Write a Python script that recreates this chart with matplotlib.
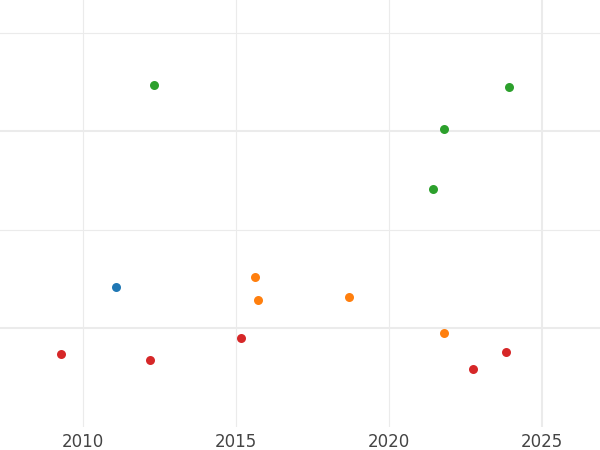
import matplotlib
matplotlib.use("Agg")
import matplotlib.pyplot as plt

# groups of points (year, value)
green_x = [2012.32, 2023.94, 2021.81, 2021.43]
green_y = [2.467, 2.447, 2.023, 1.418]

blue_x = [2011.07]
blue_y = [0.413]

orange_x = [2015.62, 2015.73, 2018.69, 2021.79]
orange_y = [0.521, 0.284, 0.312, -0.048]

red_x = [2009.28, 2012.20, 2015.16, 2022.75, 2023.83]
red_y = [-0.264, -0.322, -0.105, -0.416, -0.247]

xticks = [2010, 2015, 2020, 2025]

fig = plt.figure(figsize=(6, 4.5), dpi=100)
ax = fig.add_axes([0, 1 - 427 / 450, 1, 427 / 450])

grid_col = "#ebebeb"
# vertical grid
for yr in xticks:
    ax.axvline(yr, color=grid_col, lw=1.5 if yr == 2025 else 0.8, zorder=0)
# horizontal grid (major / minor)
for v in [0, 2]:
    ax.axhline(v, color=grid_col, lw=1.5, zorder=0)
for v in [1, 3]:
    ax.axhline(v, color=grid_col, lw=0.8, zorder=0)

ax.scatter(green_x, green_y, s=42, color="#2ca02c", zorder=3, linewidths=0)
ax.scatter(blue_x, blue_y, s=42, color="#1f77b4", zorder=3, linewidths=0)
ax.scatter(orange_x, orange_y, s=42, color="#ff7f0e", zorder=3, linewidths=0)
ax.scatter(red_x, red_y, s=42, color="#d62728", zorder=3, linewidths=0)

ax.set_xlim(2007.29, 2026.90)
ax.set_ylim(-1.005, 3.335)
ax.set_xticks(xticks)
ax.set_xticklabels([str(t) for t in xticks])
ax.set_yticks([])
ax.tick_params(axis="x", length=0, pad=4, labelsize=12, labelcolor="#444444")
for s in ax.spines.values():
    s.set_visible(False)

fig.savefig("out.png", dpi=100)
